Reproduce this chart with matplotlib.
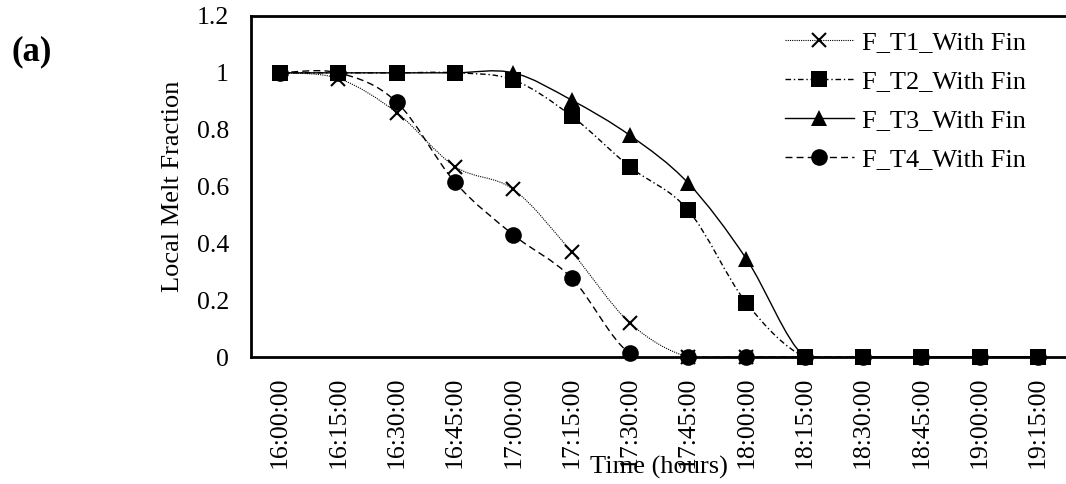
import matplotlib
matplotlib.use("Agg")
import matplotlib.pyplot as plt
import numpy as np
from matplotlib.path import Path
from matplotlib.patches import PathPatch
from matplotlib.lines import Line2D

plt.rcParams['font.family'] = ['Liberation Serif', 'DejaVu Serif']

times = ["16:00:00", "16:15:00", "16:30:00", "16:45:00", "17:00:00", "17:15:00", "17:30:00",
         "17:45:00", "18:00:00", "18:15:00", "18:30:00", "18:45:00", "19:00:00", "19:15:00"]
f_t1 = [1.0, 0.98, 0.86, 0.67, 0.59, 0.37, 0.12, 0.0, 0.0, 0.0, 0.0, 0.0, 0.0, 0.0]
f_t2 = [1.0, 1.0, 1.0, 1.0, 0.975, 0.848, 0.669, 0.517, 0.19, 0.0, 0.0, 0.0, 0.0, 0.0]
f_t3 = [1.0, 1.0, 1.0, 1.0, 1.0, 0.904, 0.78, 0.612, 0.345, 0.0, 0.0, 0.0, 0.0, 0.0]
f_t4 = [1.0, 1.0, 0.897, 0.615, 0.43, 0.278, 0.013, 0.0, 0.0, 0.0, 0.0, 0.0, 0.0, 0.0]
names = ["F_T1_With Fin", "F_T2_With Fin", "F_T3_With Fin", "F_T4_With Fin"]


def smooth_path(x, y):
    # excel style smoothed line: cubic bezier through every point
    pts = np.column_stack([x, y]).astype(float)
    n = len(pts)
    verts = [pts[0]]
    codes = [Path.MOVETO]
    for i in range(n - 1):
        p0 = pts[max(i - 1, 0)]
        p1 = pts[i]
        p2 = pts[i + 1]
        p3 = pts[min(i + 2, n - 1)]
        c1 = p1 + (p2 - p0) / 6.0
        c2 = p2 - (p3 - p1) / 6.0
        verts += [c1, c2, p2]
        codes += [Path.CURVE4] * 3
    return Path(verts, codes)


fig = plt.figure(figsize=(10.66, 4.84), dpi=100)
ax = fig.add_axes([251 / 1066, 1 - 357 / 484, 816 / 1066, 341 / 484])

x = np.arange(len(times))
styles = [
    dict(ls=(0, (1, 1)), lw=0.8, marker='x', ms=10, mew=1.5),
    dict(ls=(0, (4, 2, 1, 2)), lw=1.0, marker='s', ms=11, mew=0),
    dict(ls='-', lw=1.0, marker='^', ms=12, mew=0),
    dict(ls=(0, (5, 3)), lw=1.0, marker='o', ms=12, mew=0),
]
handles = []
for vals, st, name in zip([f_t1, f_t2, f_t3, f_t4], styles, names):
    patch = PathPatch(smooth_path(x, vals), facecolor='none', edgecolor='black',
                      lw=st['lw'], linestyle=st['ls'], zorder=2)
    ax.add_patch(patch)
    ax.plot(x, vals, ls='none', marker=st['marker'], ms=st['ms'], mew=st['mew'],
            color='black', zorder=3, clip_on=False)
    handles.append(Line2D([], [], color='black', ls=st['ls'], lw=st['lw'],
                          marker=st['marker'], ms=st['ms'], mew=st['mew']))

ax.set_xlim(-0.5, len(times) - 0.5)
ax.set_ylim(0, 1.2)
ax.set_xticks(x)
ax.set_xticklabels(times, rotation=90, fontsize=18.5)
ax.set_yticks([0, 0.2, 0.4, 0.6, 0.8, 1.0, 1.2])
ax.set_yticklabels(["0", "0.2", "0.4", "0.6", "0.8", "1", "1.2"], fontsize=18.5)
ax.tick_params(axis='both', length=0)
ax.tick_params(axis='x', pad=14)
ax.tick_params(axis='y', pad=16)

for side in ['left', 'top', 'bottom']:
    ax.spines[side].set_linewidth(2)
ax.spines['right'].set_visible(False)

ax.set_xlabel("Time (hours)", fontsize=19)
ax.xaxis.set_label_coords(0.5, (17 / 484 - (1 - 357 / 484)) / (341 / 484))
ax.xaxis.label.set_va('center')
ax.set_ylabel("Local Melt Fraction", fontsize=19)
ax.yaxis.set_label_coords((173 - 251) / 816, 0.5)
ax.yaxis.label.set_va('center')

ax.legend(handles, names, loc='upper left', bbox_to_anchor=(785 / 1066, 1 - 31 / 484),
          bbox_transform=fig.transFigure, frameon=False, fontsize=19,
          handlelength=2.6, handletextpad=0.3, labelspacing=0.58,
          borderpad=0, borderaxespad=0)

fig.text(32 / 1066, 1 - 52 / 484, "(a)", fontsize=25, fontweight='bold',
         ha='center', va='center')

fig.savefig("out.png", dpi=100)
